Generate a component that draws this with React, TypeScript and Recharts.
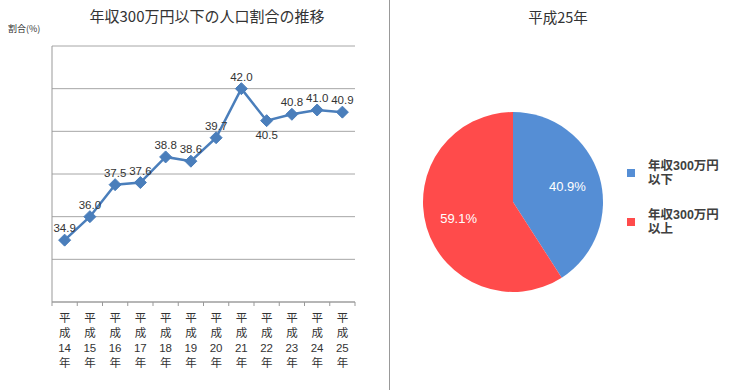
import { LineChart, Line, XAxis, YAxis, CartesianGrid, PieChart, Pie, Cell } from "recharts";

const years = ["14", "15", "16", "17", "18", "19", "20", "21", "22", "23", "24", "25"];
const ratio = [34.9, 36.0, 37.5, 37.6, 38.8, 38.6, 39.7, 42.0, 40.5, 40.8, 41.0, 40.9];
const yTicks = [32, 34, 36, 38, 40, 42, 44];

const pieNames = ["年収300万円以下", "年収300万円以上"];
const pieLegend = [["年収300万円", "以下"], ["年収300万円", "以上"]];
const pieValues = [40.9, 59.1];
const pieColors = ["#558ed5", "#ff4b4b"];

const lineData = years.map((y, i) => ({ year: y, value: ratio[i] }));
const pieData = pieNames.map((n, i) => ({ name: n, value: pieValues[i] }));

const JP = "'Noto Sans CJK JP', sans-serif";
const LAT = "'Liberation Sans', Arial, sans-serif";
const MIX = "'Liberation Sans', 'Noto Sans CJK JP', sans-serif";
const BLUE = "#4a7ebb";
const BAND = 25.25;

const Diamond = (props: any) => {
  const { cx, cy } = props;
  if (cx == null || cy == null) return null;
  const s = 6;
  return (
    <polygon
      points={`${cx},${cy - s} ${cx + s},${cy} ${cx},${cy + s} ${cx - s},${cy}`}
      fill={BLUE}
      stroke={BLUE}
    />
  );
};

const ValueLabel = (props: any) => {
  const { x, y, value, index } = props;
  const below = index === 8;
  return (
    <text
      x={x}
      y={below ? y + 18 : y - 8}
      textAnchor="middle"
      fontSize={11.5}
      fontFamily={LAT}
      fill="#333"
    >
      {Number(value).toFixed(1)}
    </text>
  );
};

const YearTick = (props: any) => {
  const { x, y, payload, index } = props;
  const axisY = y - 4;
  const lines = ["平", "成", String(payload.value), "年"];
  return (
    <g>
      <line x1={x - BAND / 2} x2={x - BAND / 2} y1={axisY} y2={axisY + 4} stroke="#999" />
      {index === years.length - 1 && (
        <line x1={x + BAND / 2} x2={x + BAND / 2} y1={axisY} y2={axisY + 4} stroke="#999" />
      )}
      {lines.map((t, i) => (
        <text
          key={i}
          x={x}
          y={y + 16 + i * 15}
          textAnchor="middle"
          fontSize={11.5}
          fontFamily={i === 2 ? LAT : JP}
          fill="#333"
        >
          {t}
        </text>
      ))}
    </g>
  );
};

const PieLabel = (props: any) => {
  const { cx, cy, midAngle, outerRadius, value } = props;
  const r = outerRadius * 0.63;
  const rad = (Math.PI / 180) * midAngle;
  return (
    <text
      x={cx + r * Math.cos(rad)}
      y={cy - r * Math.sin(rad) + 5}
      textAnchor="middle"
      fontSize={13}
      fontFamily={LAT}
      fill="#fff"
    >
      {value.toFixed(1)}%
    </text>
  );
};

export default function App() {
  return (
    <div
      style={{
        position: "fixed",
        left: 0,
        top: 0,
        width: 730,
        height: 390,
        background: "#fff",
        overflow: "hidden",
      }}
    >
      <div style={{ position: "absolute", left: 0, top: 0 }}>
        <LineChart
          width={370}
          height={390}
          data={lineData}
          margin={{ top: 46, right: 15, left: 51, bottom: 58 }}
        >
          <text x={207} y={22} textAnchor="middle" fontSize={15} fontFamily={JP} fill="#333">
            年収300万円以下の人口割合の推移
          </text>
          <text x={8} y={32} fontSize={9} fontFamily={JP} fill="#333">
            割合(%)
          </text>
          <CartesianGrid vertical={false} stroke="#a6a6a6" />
          <XAxis
            dataKey="year"
            height={30}
            padding={{ left: BAND / 2, right: BAND / 2 }}
            axisLine={{ stroke: "#999" }}
            tickLine={false}
            tickSize={4}
            tickMargin={0}
            interval={0}
            tick={<YearTick />}
          />
          <YAxis
            width={1}
            domain={[32, 44]}
            ticks={yTicks}
            interval={0}
            tickFormatter={() => ""}
            tickLine={false}
            axisLine={{ stroke: "#999" }}
          />
          <Line
            dataKey="value"
            stroke={BLUE}
            strokeWidth={2.5}
            dot={<Diamond />}
            activeDot={false}
            label={<ValueLabel />}
            isAnimationActive={false}
          />
        </LineChart>
      </div>

      <div
        style={{
          position: "absolute",
          left: 389,
          top: 0,
          width: 1,
          height: 390,
          background: "#999",
        }}
      />

      <div style={{ position: "absolute", left: 390, top: 0 }}>
        <PieChart width={340} height={390}>
          <text x={168} y={23} textAnchor="middle" fontSize={14.5} fontFamily={JP} fill="#333">
            平成25年
          </text>
          <Pie
            data={pieData}
            dataKey="value"
            cx={118}
            cy={197}
            outerRadius={90}
            startAngle={90}
            endAngle={-270}
            stroke="none"
            labelLine={false}
            label={<PieLabel />}
            isAnimationActive={false}
          >
            {pieData.map((d, i) => (
              <Cell key={d.name} fill={pieColors[i]} />
            ))}
          </Pie>
        </PieChart>
      </div>

      {pieLegend.map((lines, i) => (
        <div
          key={i}
          style={{
            position: "absolute",
            left: 627,
            top: 159 + i * 49,
            display: "flex",
            alignItems: "center",
            fontFamily: MIX,
            fontSize: 12.5,
            fontWeight: "bold",
            lineHeight: "14px",
            color: "#404040",
          }}
        >
          <div style={{ width: 8, height: 8, background: pieColors[i], marginRight: 13 }} />
          <div>
            {lines.map((t) => (
              <div key={t}>{t}</div>
            ))}
          </div>
        </div>
      ))}
    </div>
  );
}
